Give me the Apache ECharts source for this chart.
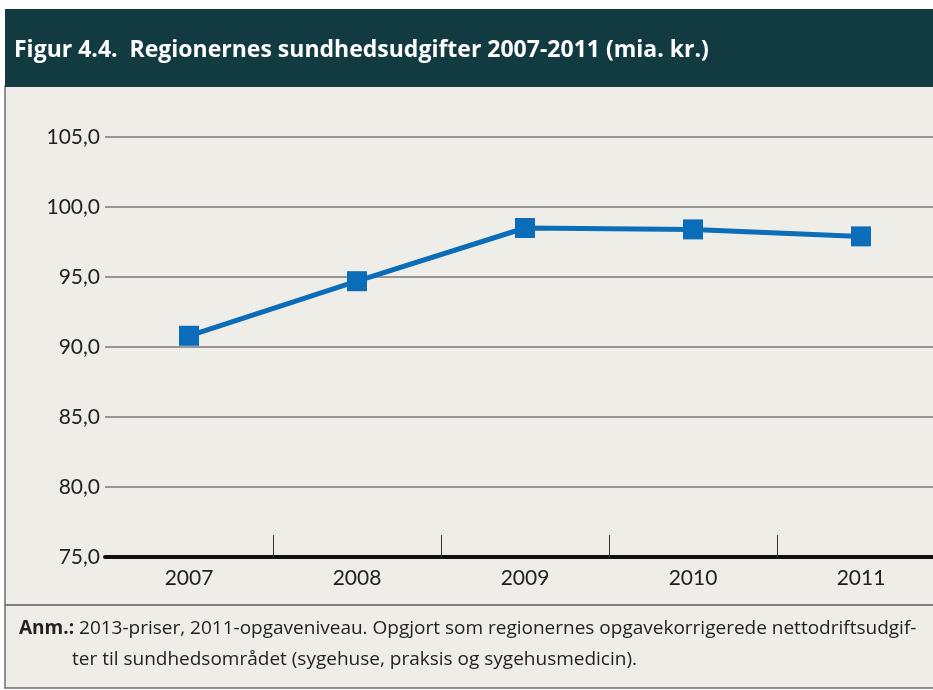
<!DOCTYPE html>
<html>
<head>
<meta charset="utf-8">
<script src="https://cdn.jsdelivr.net/npm/echarts@6/dist/echarts.min.js"></script>
<style>
  html, body { margin: 0; padding: 0; background: #fff; overflow: hidden; }
  /* the plot runs past the right edge in the reference, so the canvas is a bit wider than the window */
  #chart { width: 960px; height: 690px; }
</style>
</head>
<body>
<div id="chart"></div>
<script>
// data
var years = ['2007', '2008', '2009', '2010', '2011'];
var udgifter = [90.8, 94.7, 98.5, 98.4, 97.9];
var titleText = 'Figur 4.4.  Regionernes sundhedsudgifter 2007-2011 (mia. kr.)';
var noteLabel = 'Anm.:';
var noteLine1 = ' 2013-priser, 2011-opgaveniveau. Opgjort som regionernes opgavekorrigerede nettodriftsudgif-';
var noteLine2 = 'ter til sundhedsområdet (sygehuse, praksis og sygehusmedicin).';

var font = 'Lato';
var textFont = 'Open Sans';
var chart = echarts.init(document.getElementById('chart'));

chart.setOption({
  backgroundColor: '#ffffff',
  animation: false,
  title: {
    text: titleText,
    left: 9,
    top: 34,
    textStyle: { color: '#ffffff', fontFamily: textFont, fontWeight: 'bold', fontSize: 23 }
  },
  graphic: [
    // panel background + borders
    { type: 'rect', z: -10, shape: { x: 5, y: 86, width: 960, height: 602 },
      style: { fill: '#eeede8', stroke: '#6f6f6f', lineWidth: 1.5 } },
    // header bar
    { type: 'rect', z: -5, shape: { x: 5, y: 9, width: 960, height: 78 },
      style: { fill: '#123b41' } },
    // footnote separator
    { type: 'line', z: -5, shape: { x1: 5, y1: 605, x2: 960, y2: 605 },
      style: { stroke: '#5a5a5a', lineWidth: 1.5 } },
    { type: 'text', left: 19, top: 619,
      style: { text: '{b|' + noteLabel + '}' + noteLine1,
        font: '19px "' + textFont + '"', fill: '#222',
        rich: { b: { fontWeight: 'bold', fontFamily: textFont, fontSize: 19, fill: '#222' } } } },
    { type: 'text', left: 72, top: 650,
      style: { text: noteLine2, font: '19px "' + textFont + '"', fill: '#222' } }
  ],
  grid: { left: 105, width: 840, top: 137, bottom: 133, containLabel: false },
  xAxis: {
    type: 'category',
    data: years,
    boundaryGap: true,
    axisLine: { lineStyle: { color: '#111', width: 4 } },
    axisTick: {
      show: true, inside: true, length: 22,
      interval: function (i) { return i > 0; },
      lineStyle: { color: '#333', width: 1 }
    },
    axisLabel: { color: '#222', fontFamily: font, fontSize: 21, margin: 11 }
  },
  yAxis: {
    type: 'value',
    min: 75, max: 105, interval: 5,
    axisLine: { show: false },
    axisTick: { show: false },
    axisLabel: {
      color: '#222', fontFamily: font, fontSize: 21, margin: 5,
      formatter: function (v) { return v.toFixed(1).replace('.', ','); }
    },
    splitLine: { lineStyle: { color: '#7a7a7a', width: 1.5 } }
  },
  series: [{
    type: 'line',
    data: udgifter,
    symbol: 'rect',
    symbolSize: 20,
    lineStyle: { color: '#0b6db7', width: 5 },
    itemStyle: { color: '#0b6db7' }
  }]
});
</script>
</body>
</html>
